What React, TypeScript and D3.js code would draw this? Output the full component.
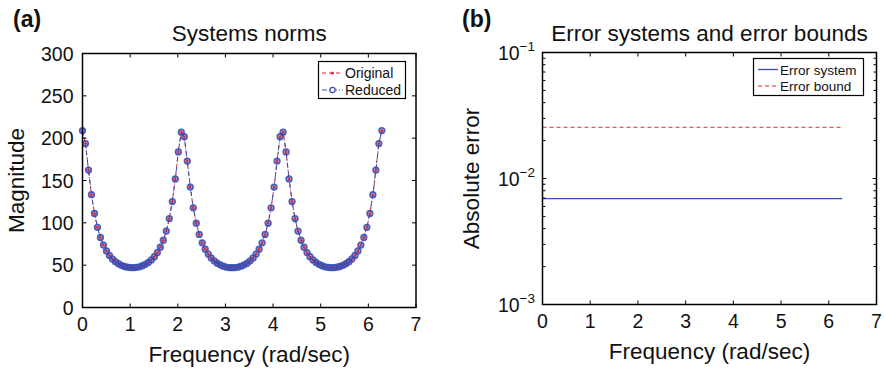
import React from "react";
import * as d3 from "d3";

// ---------- Data ----------
const freq = [
  0, 0.063, 0.126, 0.188, 0.251, 0.314, 0.377, 0.44, 0.503, 0.565,
  0.628, 0.691, 0.754, 0.817, 0.88, 0.942, 1.005, 1.068, 1.131, 1.194,
  1.257, 1.319, 1.382, 1.445, 1.508, 1.571, 1.634, 1.696, 1.759, 1.822,
  1.885, 1.948, 2.011, 2.073, 2.136, 2.199, 2.262, 2.325, 2.388, 2.45,
  2.513, 2.576, 2.639, 2.702, 2.765, 2.827, 2.89, 2.953, 3.016, 3.079,
  3.142, 3.204, 3.267, 3.33, 3.393, 3.456, 3.519, 3.581, 3.644, 3.707,
  3.77, 3.833, 3.896, 3.958, 4.021, 4.084, 4.147, 4.21, 4.273, 4.335,
  4.398, 4.461, 4.524, 4.587, 4.65, 4.712, 4.775, 4.838, 4.901, 4.964,
  5.027, 5.089, 5.152, 5.215, 5.278, 5.341, 5.404, 5.466, 5.529, 5.592,
  5.655, 5.718, 5.781, 5.843, 5.906, 5.969, 6.032, 6.095, 6.158, 6.22,
  6.283,
];

const originalMag = [
  209.0, 193.6, 162.3, 133.2, 111.0, 94.7, 82.7, 73.7, 66.8, 61.5,
  57.3, 54.1, 51.7, 49.8, 48.4, 47.6, 47.1, 47.0, 47.4, 48.1,
  49.3, 51.0, 53.2, 56.2, 60.0, 64.9, 71.2, 79.4, 90.3, 105.0,
  125.1, 151.9, 183.7, 207.1, 201.7, 173.0, 142.2, 117.7, 99.6, 86.3,
  76.4, 68.9, 63.1, 58.6, 55.1, 52.4, 50.4, 48.8, 47.8, 47.2,
  47.0, 47.2, 47.8, 48.8, 50.4, 52.4, 55.1, 58.6, 63.1, 68.9,
  76.4, 86.3, 99.6, 117.7, 142.2, 173.0, 201.7, 207.1, 183.7, 151.9,
  125.1, 105.0, 90.3, 79.4, 71.2, 64.9, 60.0, 56.2, 53.2, 51.0,
  49.3, 48.1, 47.4, 47.0, 47.1, 47.6, 48.4, 49.8, 51.7, 54.1,
  57.3, 61.5, 66.8, 73.7, 82.7, 94.7, 111.0, 133.2, 162.3, 193.6,
  209.0,
];

const reducedMag = [
  209.0, 193.6, 162.3, 133.2, 111.0, 94.7, 82.7, 73.7, 66.8, 61.5,
  57.3, 54.1, 51.7, 49.8, 48.4, 47.6, 47.1, 47.0, 47.4, 48.1,
  49.3, 51.0, 53.2, 56.2, 60.0, 64.9, 71.2, 79.4, 90.3, 105.0,
  125.1, 151.9, 183.7, 207.1, 201.7, 173.0, 142.2, 117.7, 99.6, 86.3,
  76.4, 68.9, 63.1, 58.6, 55.1, 52.4, 50.4, 48.8, 47.8, 47.2,
  47.0, 47.2, 47.8, 48.8, 50.4, 52.4, 55.1, 58.6, 63.1, 68.9,
  76.4, 86.3, 99.6, 117.7, 142.2, 173.0, 201.7, 207.1, 183.7, 151.9,
  125.1, 105.0, 90.3, 79.4, 71.2, 64.9, 60.0, 56.2, 53.2, 51.0,
  49.3, 48.1, 47.4, 47.0, 47.1, 47.6, 48.4, 49.8, 51.7, 54.1,
  57.3, 61.5, 66.8, 73.7, 82.7, 94.7, 111.0, 133.2, 162.3, 193.6,
  209.0,
];

const errFreq = [0, 6.283];
const errSystem = [0.00693, 0.00693];
const errBound = [0.0255, 0.0255];

const xTicks = [0, 1, 2, 3, 4, 5, 6, 7];
const magTicks = [0, 50, 100, 150, 200, 250, 300];
const logMajor = [0.001, 0.01, 0.1];
const logMajorLabels = ["\u22123", "\u22122", "\u22121"];

// ---------- Styles ----------
const FONT = "'Liberation Sans', Arial, Helvetica, sans-serif";
const RED = "#e8262a";
const BLUE = "#3a4cb4";
const TICK = 4;

export default function App() {
  // Panel (a)
  const ax = { l: 82.5, r: 416, t: 53.5, b: 307.5 };
  const xA = d3.scaleLinear().domain([0, 7]).range([ax.l, ax.r]);
  const yA = d3.scaleLinear().domain([0, 300]).range([ax.b, ax.t]);
  const lineA = d3
    .line<number>()
    .x((_, i) => xA(freq[i]))
    .y((d) => yA(d));

  // Panel (b)
  const bx = { l: 542.5, r: 876.5, t: 52.5, b: 304.5 };
  const xB = d3.scaleLinear().domain([0, 7]).range([bx.l, bx.r]);
  const yB = d3.scaleLog().domain([0.001, 0.1]).range([bx.b, bx.t]);
  const lineB = d3
    .line<number>()
    .x((_, i) => xB(errFreq[i]))
    .y((d) => yB(d));
  const logTicks = yB.ticks();

  return (
    <svg
      width={884}
      height={370}
      style={{ position: "absolute", left: 0, top: 0, background: "#fff" }}
      fontFamily={FONT}
    >
      <rect width={884} height={370} fill="#fff" />
      {/* ===== Panel (a) ===== */}
      <text x={13} y={27} fontSize={23} fontWeight="bold" fill="#111">
        (a)
      </text>
      <text x={(ax.l + ax.r) / 2} y={41} fontSize={22.5} textAnchor="middle" fill="#111">
        Systems norms
      </text>
      {/* data */}
      <path d={lineA(originalMag) || ""} fill="none" stroke={RED} strokeWidth={1} strokeDasharray="4,3" />
      <path d={lineA(reducedMag) || ""} fill="none" stroke={BLUE} strokeWidth={1} strokeDasharray="5,2,1,2" />
      {originalMag.map((v, i) => (
        <circle key={"o" + i} cx={xA(freq[i])} cy={yA(v)} r={1.5} fill={RED} />
      ))}
      {reducedMag.map((v, i) => (
        <circle
          key={"r" + i}
          cx={xA(freq[i])}
          cy={yA(v)}
          r={2.7}
          fill="none"
          stroke={BLUE}
          strokeOpacity={0.9}
          strokeWidth={1.9}
        />
      ))}
      {/* axes box */}
      <rect x={ax.l} y={ax.t} width={ax.r - ax.l} height={ax.b - ax.t} fill="none" stroke="#000" strokeWidth={1.5} />
      {xTicks.map((t) => (
        <g key={"xa" + t}>
          <line x1={xA(t)} x2={xA(t)} y1={ax.b} y2={ax.b - TICK} stroke="#000" />
          <line x1={xA(t)} x2={xA(t)} y1={ax.t} y2={ax.t + TICK} stroke="#000" />
          <text x={xA(t)} y={ax.b + 23} fontSize={19.5} textAnchor="middle" fill="#111">
            {t}
          </text>
        </g>
      ))}
      {magTicks.map((t) => (
        <g key={"ya" + t}>
          <line x1={ax.l} x2={ax.l + TICK} y1={yA(t)} y2={yA(t)} stroke="#000" />
          <line x1={ax.r} x2={ax.r - TICK} y1={yA(t)} y2={yA(t)} stroke="#000" />
          <text x={73.5} y={yA(t) + 7} fontSize={19.5} textAnchor="end" fill="#111">
            {t}
          </text>
        </g>
      ))}
      <text x={(ax.l + ax.r) / 2} y={361.5} fontSize={22.5} textAnchor="middle" fill="#111">
        Frequency (rad/sec)
      </text>
      <text
        transform={`translate(24,${(ax.t + ax.b) / 2}) rotate(-90)`}
        fontSize={22.5}
        textAnchor="middle"
        fill="#111"
      >
        Magnitude
      </text>
      {/* legend (a) */}
      <rect x={318.5} y={61.5} width={87} height={37} fill="#fff" stroke="#000" strokeWidth={1.2} />
      <line x1={322} x2={343} y1={73} y2={73} stroke={RED} strokeDasharray="4,3" />
      <circle cx={332.5} cy={73} r={1.6} fill={RED} />
      <text x={345} y={78} fontSize={14} fill="#111">
        Original
      </text>
      <line x1={322} x2={343} y1={90} y2={90} stroke={BLUE} strokeDasharray="5,2,1,2" />
      <circle cx={332.5} cy={90} r={2.6} fill="#fff" stroke={BLUE} strokeWidth={1.2} />
      <text x={345} y={95} fontSize={14} fill="#111">
        Reduced
      </text>

      {/* ===== Panel (b) ===== */}
      <text x={462} y={27} fontSize={23} fontWeight="bold" fill="#111">
        (b)
      </text>
      <text x={(bx.l + bx.r) / 2} y={41} fontSize={22.5} textAnchor="middle" fill="#111">
        Error systems and error bounds
      </text>
      <path d={lineB(errBound) || ""} fill="none" stroke={RED} strokeWidth={1.1} strokeDasharray="4,3" />
      <path d={lineB(errSystem) || ""} fill="none" stroke={BLUE} strokeWidth={1.3} />
      <rect x={bx.l} y={bx.t} width={bx.r - bx.l} height={bx.b - bx.t} fill="none" stroke="#000" strokeWidth={1.5} />
      {xTicks.map((t) => (
        <g key={"xb" + t}>
          <line x1={xB(t)} x2={xB(t)} y1={bx.b} y2={bx.b - TICK} stroke="#000" />
          <line x1={xB(t)} x2={xB(t)} y1={bx.t} y2={bx.t + TICK} stroke="#000" />
          <text x={xB(t)} y={bx.b + 23} fontSize={19.5} textAnchor="middle" fill="#111">
            {t}
          </text>
        </g>
      ))}
      {logTicks.map((t, i) => {
        const major = logMajor.some((m) => Math.abs(m - t) / m < 1e-6);
        const len = major ? TICK : 3;
        return (
          <g key={"lb" + i}>
            <line x1={bx.l} x2={bx.l + len} y1={yB(t)} y2={yB(t)} stroke="#000" />
            <line x1={bx.r} x2={bx.r - len} y1={yB(t)} y2={yB(t)} stroke="#000" />
          </g>
        );
      })}
      {logMajor.map((t, i) => (
        <text key={"ll" + i} x={535} y={yB(t) + 7} fontSize={19.5} textAnchor="end" fill="#111">
          10
          <tspan dy={-9} fontSize={13.5}>
            {logMajorLabels[i]}
          </tspan>
        </text>
      ))}
      <text x={(bx.l + bx.r) / 2} y={358.5} fontSize={22.5} textAnchor="middle" fill="#111">
        Frequency (rad/sec)
      </text>
      <text
        transform={`translate(479,${(bx.t + bx.b) / 2}) rotate(-90)`}
        fontSize={22.5}
        textAnchor="middle"
        fill="#111"
      >
        Absolute error
      </text>
      {/* legend (b) */}
      <rect x={753.5} y={58.5} width={110} height={37} fill="#fff" stroke="#000" strokeWidth={1.2} />
      <line x1={758} x2={778} y1={69.5} y2={69.5} stroke={BLUE} strokeWidth={1.3} />
      <text x={780} y={74.5} fontSize={13.5} fill="#111">
        Error system
      </text>
      <line x1={758} x2={778} y1={86} y2={86} stroke={RED} strokeDasharray="4,3" />
      <text x={780} y={91} fontSize={13.5} fill="#111">
        Error bound
      </text>
    </svg>
  );
}
